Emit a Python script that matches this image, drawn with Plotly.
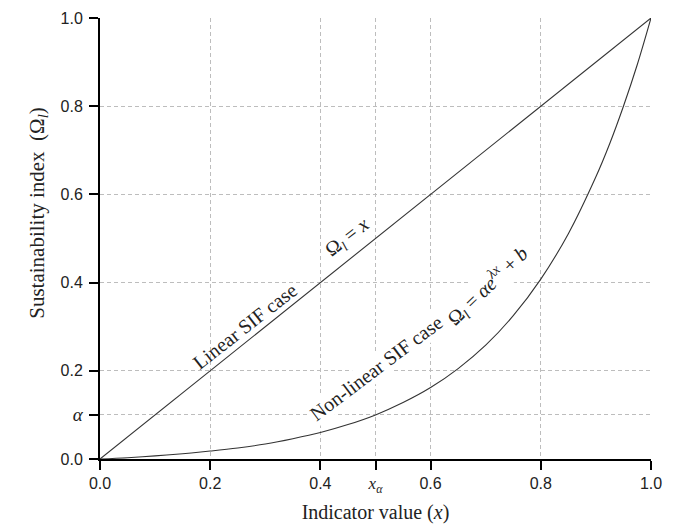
import plotly.graph_objects as go

# Data
x_linear = [0.0, 1.0]
y_linear = [0.0, 1.0]

x_nonlinear = [0.0, 0.05, 0.1, 0.15, 0.2, 0.25, 0.3, 0.35, 0.4, 0.45, 0.5, 0.55,
               0.6, 0.65, 0.7, 0.75, 0.8, 0.85, 0.9, 0.925, 0.95, 0.975, 1.0]
y_nonlinear = [0.0, 0.003, 0.007, 0.012, 0.018, 0.025, 0.034, 0.046, 0.060, 0.078, 0.100, 0.128,
               0.162, 0.205, 0.258, 0.325, 0.408, 0.511, 0.640, 0.715, 0.800, 0.894, 1.0]

x_tickvals = [0.0, 0.2, 0.4, 0.5, 0.6, 0.8, 1.0]
x_ticktext = ["0.0", "0.2", "0.4",
              "<span style='font-family:Liberation Serif;font-size:17px'><i>x<sub>α</sub></i></span>",
              "0.6", "0.8", "1.0"]
y_tickvals = [0.0, 0.1, 0.2, 0.4, 0.6, 0.8, 1.0]
y_ticktext = ["0.0", "<span style='font-family:Liberation Serif;font-size:19px'><i>α</i></span>",
              "0.2", "0.4", "0.6", "0.8", "1.0"]

SERIF = "Liberation Serif"
SANS = "Liberation Sans"

fig = go.Figure()
fig.add_trace(go.Scatter(x=x_linear, y=y_linear, mode="lines",
                         line=dict(color="#333333", width=1.1), showlegend=False))
fig.add_trace(go.Scatter(x=x_nonlinear, y=y_nonlinear, mode="lines",
                         line=dict(color="#333333", width=1.1, shape="spline"), showlegend=False))

axis_common = dict(
    range=[0, 1], showgrid=True, gridcolor="#bdbdbd", griddash="4px,3px", gridwidth=1,
    showline=True, linecolor="black", linewidth=2, ticks="outside", ticklen=9,
    tickwidth=2, tickcolor="black", zeroline=False, automargin=False,
    tickfont=dict(family=SANS, size=16, color="#222"),
)

fig.update_layout(
    width=674, height=528,
    margin=dict(l=92, r=31, t=10, b=77),
    paper_bgcolor="white", plot_bgcolor="white",
    xaxis=dict(**axis_common, tickmode="array", tickvals=x_tickvals, ticktext=x_ticktext,
               title=dict(text="Indicator value (<i>x</i>)", font=dict(family=SERIF, size=20, color="#222"),
                          standoff=10)),
    yaxis=dict(**axis_common, tickmode="array", tickvals=y_tickvals, ticktext=y_ticktext,
               ticklabelstandoff=3),
)

# y-axis title (placed as annotation, off-centre as in the reference)
fig.add_annotation(xref="paper", yref="paper", x=-0.14, y=0.558,
                   text="Sustainability index  (Ω<sub><i>l</i></sub>)", showarrow=False,
                   textangle=-90, font=dict(family=SERIF, size=21, color="#222"))

ann_font = dict(family=SERIF, size=20, color="#222")
fig.add_annotation(x=0.263, y=0.302, text="Linear SIF case", showarrow=False,
                   textangle=-38, font=ann_font)
fig.add_annotation(x=0.450, y=0.502, text="Ω<sub><i>l</i></sub> = <i>x</i>", showarrow=False,
                   textangle=-38, font=ann_font)
fig.add_annotation(x=0.501, y=0.207, text="Non-linear SIF case", showarrow=False,
                   textangle=-37, font=ann_font, bgcolor="white")
fig.add_annotation(x=0.704, y=0.393, text="Ω<sub><i>l</i></sub> = <i>αe<sup>λx</sup></i> + <i>b</i>",
                   showarrow=False, textangle=-44, font=ann_font, bgcolor="white")

fig.write_html("out.html")
